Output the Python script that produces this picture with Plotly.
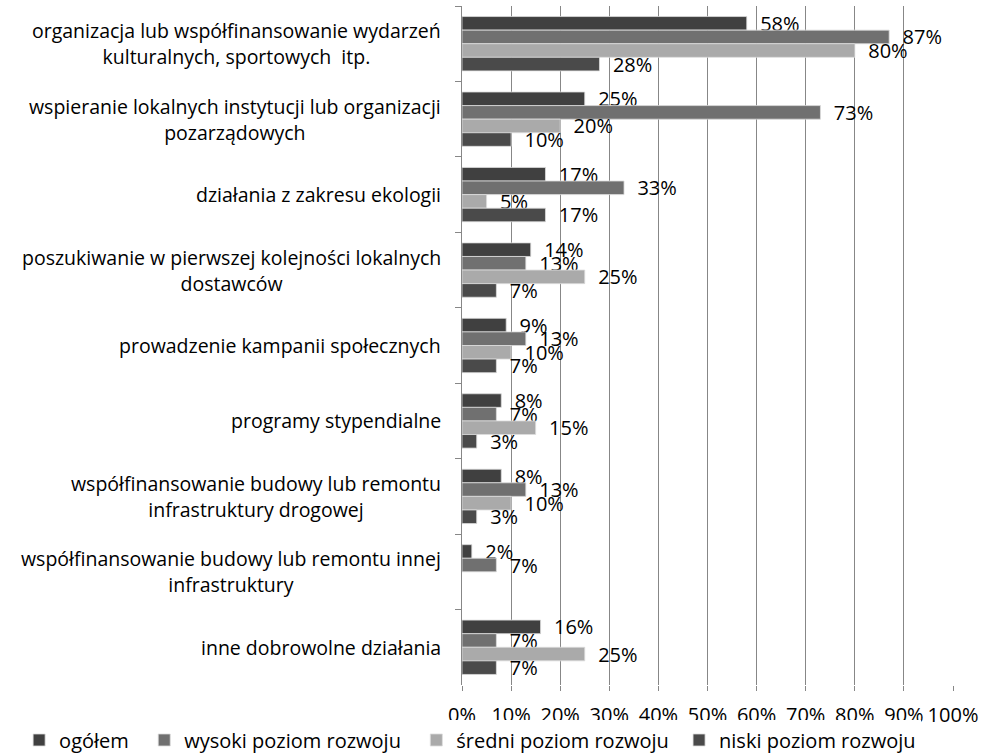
import plotly.graph_objects as go

# Categories (top to bottom); <br> marks the line breaks of the wrapped labels
categories = [
    "organizacja lub współfinansowanie wydarzeń<br>kulturalnych, sportowych \u00a0itp.",
    "wspieranie lokalnych instytucji lub organizacji<br>pozarządowych",
    "działania z zakresu ekologii",
    "poszukiwanie w pierwszej kolejności lokalnych<br>dostawców",
    "prowadzenie kampanii społecznych",
    "programy stypendialne",
    "współfinansowanie budowy lub remontu<br>infrastruktury drogowej",
    "współfinansowanie budowy lub remontu innej<br>infrastruktury",
    "inne dobrowolne działania",
]

series_names = [
    "ogółem",
    "wysoki poziom rozwoju",
    "średni poziom rozwoju",
    "niski poziom rozwoju",
]

# Percent values per series, in category order
ogolem = [58, 25, 17, 14, 9, 8, 8, 2, 16]
wysoki = [87, 73, 33, 13, 13, 7, 13, 7, 7]
sredni = [80, 20, 5, 25, 10, 15, 10, None, 25]
niski = [28, 10, 17, 7, 7, 3, 3, None, 7]

x_tick_values = [0, 10, 20, 30, 40, 50, 60, 70, 80, 90, 100]
x_tick_labels = [f"{v}%" for v in x_tick_values]

series_values = [ogolem, wysoki, sredni, niski]
series_colors = ["#404040", "#707070", "#aaaaaa", "#4a4a4a"]
# trailing space after each legend entry, widening the gap to the next one
legend_pad = [2, 2, 1, 0]

FONT = "Open Sans, Noto Sans, sans-serif"
GRID = "#878787"
NBSP = "\u00a0"

fig = go.Figure()
for name, vals, col, pad in zip(series_names, series_values, series_colors, legend_pad):
    fig.add_trace(go.Bar(
        y=categories,
        x=vals,
        name=name + NBSP * pad,
        orientation="h",
        marker=dict(color=col, line=dict(color="#dcdcdc", width=0.8)),
        texttemplate=NBSP * 2 + "%{x:.0f}%",
        textposition="outside",
        constraintext="none",
        cliponaxis=False,
        textfont=dict(family=FONT, size=20, color="#000000"),
    ))

# Category labels: right-aligned block, lines centred inside it
annotations = []
for cat in categories:
    lines = cat.split("<br>")
    txt = "<br>".join(f"<span style='font-size:19.5px'>{ln}</span>" for ln in lines)
    annotations.append(dict(
        x=0, xref="paper", xanchor="right", xshift=-19,
        y=cat, yref="y", yanchor="middle",
        text=txt, align="center", showarrow=False,
        font=dict(family=FONT, size=20, color="#000000"),
    ))

fig.update_layout(
    width=982, height=753,
    margin=dict(l=462, r=29, t=6, b=68, autoexpand=False),
    paper_bgcolor="white", plot_bgcolor="white",
    barmode="group", bargap=0.28, bargroupgap=0,
    font=dict(family=FONT, size=20, color="#000000"),
    showlegend=True,
    legend=dict(
        orientation="h",
        x=-0.902, y=-0.081, xanchor="left", yanchor="middle",
        font=dict(family=FONT, size=20, color="#000000"),
        traceorder="normal", borderwidth=0,
    ),
    annotations=annotations,
    xaxis=dict(
        range=[0, 100],
        tickvals=x_tick_values, ticktext=x_tick_labels,
        showgrid=True, gridcolor=GRID, gridwidth=1,
        zeroline=False, showline=False,
        ticks="outside", ticklen=5, tickcolor=GRID,
        ticklabelstandoff=7,
        tickfont=dict(family=FONT, size=20, color="#000000"),
        fixedrange=True,
    ),
    yaxis=dict(
        type="category", autorange="reversed",
        showticklabels=False, showgrid=False, zeroline=False,
        showline=True, linecolor=GRID, linewidth=1,
        ticks="outside", tickson="boundaries", ticklen=6, tickcolor=GRID,
        fixedrange=True,
    ),
)

fig.write_html("out.html")
